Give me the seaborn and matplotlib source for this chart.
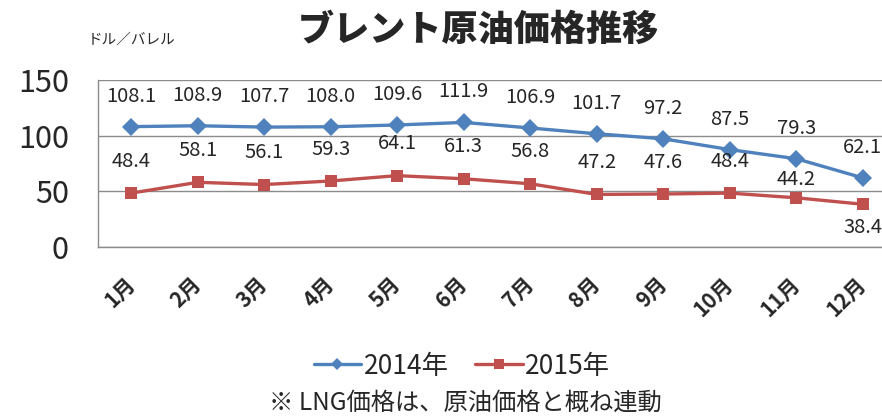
import numpy as np
import pandas as pd
import matplotlib.pyplot as plt
import seaborn as sns
from matplotlib.lines import Line2D

# データ
months = ['1月', '2月', '3月', '4月', '5月', '6月', '7月', '8月', '9月', '10月', '11月', '12月']
price_2014 = [108.1, 108.9, 107.7, 108.0, 109.6, 111.9, 106.9, 101.7, 97.2, 87.5, 79.3, 62.1]
price_2015 = [48.4, 58.1, 56.1, 59.3, 64.1, 61.3, 56.8, 47.2, 47.6, 48.4, 44.2, 38.4]
series_names = ['2014年', '2015年']
y_ticks = [0, 50, 100, 150]

sns.set_style('white')
plt.rcParams['font.family'] = ['Noto Sans CJK JP', 'DejaVu Sans']

df = pd.DataFrame({
    'x': list(range(len(months))) * 2,
    'price': price_2014 + price_2015,
    'year': [series_names[0]] * len(months) + [series_names[1]] * len(months),
})

blue, red = '#4F81BD', '#C0504D'
palette = {series_names[0]: blue, series_names[1]: red}
markers = {series_names[0]: 'D', series_names[1]: 's'}

fig = plt.figure(figsize=(8.82, 4.18), dpi=100)
ax = fig.add_axes([98 / 882, 1 - 247 / 418, 798 / 882, 167 / 418])

sns.lineplot(data=df, x='x', y='price', hue='year', style='year', palette=palette,
             markers=markers, dashes=False, markersize=9, markeredgewidth=0,
             linewidth=2.4, legend=False, ax=ax)

ax.set_xlim(-0.5, 11.5)
ax.set_ylim(0, 150)
ax.set_yticks(y_ticks)
ax.set_yticklabels([str(t) for t in y_ticks], fontsize=22)
ax.yaxis.grid(True, color='#8c8c8c', linewidth=1)
ax.set_axisbelow(True)
ax.set_xlabel('')
ax.set_ylabel('')

# x軸: 目盛りは区切り位置、ラベルは中央
ax.set_xticks(np.arange(len(months)))
ax.set_xticklabels(months, rotation=45, ha='right', va='center',
                   rotation_mode='anchor', fontsize=15, fontweight='bold')
ax.set_xticks(np.arange(-0.5, len(months), 1), minor=True)
ax.tick_params(axis='x', which='major', length=0, pad=24)
ax.tick_params(axis='x', which='minor', length=5, color='#8c8c8c', width=1, direction='out')
ax.tick_params(axis='y', length=7, color='#8c8c8c', width=1, direction='out', pad=14)

for s in ['top', 'right']:
    ax.spines[s].set_visible(False)
for s in ['left', 'bottom']:
    ax.spines[s].set_color('#8c8c8c')
    ax.spines[s].set_linewidth(1)

# データラベル
for i, v in enumerate(price_2014):
    ax.annotate(f'{v:.1f}', (i, v), xytext=(0, 22), textcoords='offset points',
                ha='center', va='center', fontsize=14.5)
for i, v in enumerate(price_2015):
    dy = 23
    if i == 10:
        dy = 13
    elif i == 11:
        dy = -17
    ax.annotate(f'{v:.1f}', (i, v), xytext=(0, dy), textcoords='offset points',
                ha='center', va='center', fontsize=14.5)

fig.text(478 / 882, 1 - 30 / 418, 'ブレント原油価格推移', ha='center', va='center',
         fontsize=26, fontweight='heavy')
fig.text(88 / 882, 1 - 40 / 418, 'ドル／バレル', ha='left', va='center', fontsize=10.5)

handles = [Line2D([], [], color=blue, marker='D', markersize=6, linewidth=2.4, markeredgewidth=0),
           Line2D([], [], color=red, marker='s', markersize=7, linewidth=2.4, markeredgewidth=0)]
fig.legend(handles, series_names, loc='center', bbox_to_anchor=(462 / 882, 1 - 366 / 418),
           ncol=2, frameon=False, fontsize=19, handlelength=1.8, handletextpad=0.1,
           columnspacing=1.0)
fig.text(465 / 882, 1 - 403 / 418, '※ LNG価格は、原油価格と概ね連動', ha='center', va='center', fontsize=17.5)

fig.savefig('out.png', dpi=100)
